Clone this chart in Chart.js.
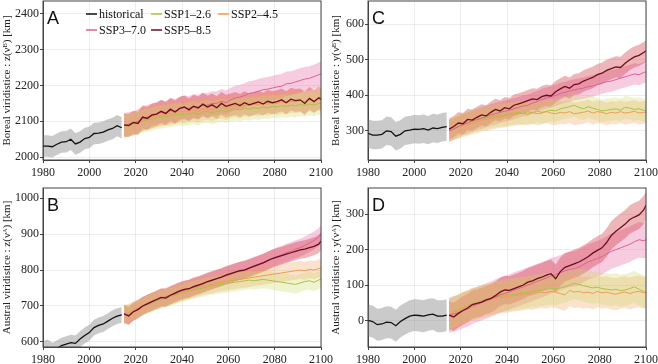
<!DOCTYPE html>
<html>
<head>
<meta charset="utf-8">
<script src="https://cdn.jsdelivr.net/npm/chart.js@4.4.0/dist/chart.umd.min.js"></script>
<style>
  html, body { margin: 0; padding: 0; background: #fff; }
  #wrap { position: relative; width: 658px; height: 364px; overflow: hidden; }
  #wrap canvas { position: absolute; left: 0; top: 0; }
</style>
</head>
<body>
<div id="wrap">
  <canvas id="panelA" width="658" height="364"></canvas>
  <canvas id="panelB" width="658" height="364"></canvas>
  <canvas id="panelC" width="658" height="364"></canvas>
  <canvas id="panelD" width="658" height="364"></canvas>
</div>
<script>
// years
const histYears = [1980,1982,1984,1986,1988,1990,1992,1994,1996,1998,2000,2002,2004,2006,2008,2010,2012,2014];
const sspYears = [2015,2017,2019,2021,2023,2025,2027,2029,2031,2033,2035,2037,2039,2041,2043,2045,2047,2049,2051,2053,2055,2057,2059,2061,2063,2065,2067,2069,2071,2073,2075,2077,2079,2081,2083,2085,2087,2089,2091,2093,2095,2097,2099,2100];
const seriesNames = ['historical', 'SSP1–2.6', 'SSP2–4.5', 'SSP3–7.0', 'SSP5–8.5'];
const xTicks = [1980, 2000, 2020, 2040, 2060, 2080, 2100];

// A : boreal z
const borealZ_hist = [2031,2031,2029,2036,2042,2043,2050,2037,2042,2052,2055,2066,2067,2070,2076,2080,2088,2082];
const borealZ_ssp126 = [2087,2088,2092,2096,2100,2104,2106,2110,2112,2114,2116,2118,2120,2118,2122,2124,2120,2126,2128,2124,2128,2130,2128,2132,2134,2132,2136,2134,2138,2136,2140,2138,2142,2140,2144,2142,2145,2143,2147,2145,2148,2146,2150,2150];
const borealZ_ssp245 = [2088,2090,2094,2098,2104,2108,2112,2115,2118,2120,2122,2124,2128,2126,2130,2132,2128,2134,2136,2133,2138,2140,2136,2142,2144,2140,2146,2144,2148,2146,2150,2148,2152,2150,2154,2152,2156,2154,2158,2155,2160,2157,2162,2160];
const borealZ_ssp370 = [2089,2092,2095,2100,2108,2112,2115,2120,2125,2122,2130,2128,2135,2138,2136,2142,2140,2146,2145,2150,2150,2156,2152,2160,2165,2168,2172,2178,2180,2184,2188,2190,2193,2196,2198,2205,2206,2210,2214,2218,2220,2225,2230,2233];
const borealZ_ssp585 = [2090,2088,2097,2094,2112,2108,2118,2120,2128,2122,2134,2126,2136,2140,2132,2142,2137,2148,2140,2146,2138,2150,2142,2146,2150,2144,2152,2146,2150,2154,2148,2156,2152,2155,2160,2152,2162,2158,2160,2150,2164,2155,2166,2162];
const borealZ_spread = [30, 32, 32, 34, 32]; // half width of shaded band, same order as seriesNames
const borealZ_ticks = [2000, 2100, 2200, 2300, 2400];

// C : boreal y
const borealY_hist = [293,288,288,290,300,298,285,290,300,302,305,304,306,302,308,306,310,312];
const borealY_ssp126 = [300,308,312,318,322,326,330,334,336,340,342,345,344,348,350,352,348,354,350,356,352,355,358,356,362,365,368,372,366,362,368,364,360,356,358,360,362,358,366,364,360,362,358,355];
const borealY_ssp245 = [300,306,310,315,318,322,325,330,332,336,338,340,342,344,346,348,350,346,352,348,350,354,350,348,352,350,354,348,350,352,356,350,354,352,348,352,350,354,350,352,355,350,352,352];
const borealY_ssp370 = [300,305,312,318,322,328,332,336,340,345,348,352,355,358,362,366,370,372,378,382,388,392,396,400,405,408,412,415,418,420,424,426,430,434,438,440,444,448,452,456,460,458,464,466];
const borealY_ssp585 = [305,312,322,320,332,330,338,345,342,352,360,356,365,362,372,376,380,385,390,388,396,400,398,410,418,425,420,430,432,440,445,450,458,462,470,475,480,478,490,500,508,512,520,525];
const borealY_spread = [40, 32, 32, 30, 30];
const borealY_ticks = [300, 400, 500, 600];

// B : austral z
const australZ_hist = [580,585,576,582,590,594,598,596,608,618,626,640,646,650,658,666,672,675];
const australZ_ssp126 = [678,680,686,692,698,704,708,714,718,722,726,730,734,738,742,745,748,750,754,756,758,760,762,764,766,768,770,772,770,772,774,772,770,768,766,764,762,760,764,768,770,766,772,775];
const australZ_ssp245 = [678,680,688,694,700,706,710,716,720,724,728,732,736,740,744,748,752,755,758,760,764,766,768,770,772,774,776,778,780,782,784,786,788,790,792,794,796,798,800,798,802,800,804,805];
const australZ_ssp370 = [678,675,684,692,700,706,712,716,722,726,730,734,740,744,748,752,756,762,766,770,776,780,784,788,794,798,802,806,812,816,820,826,832,838,842,848,852,858,862,868,875,882,892,900];
const australZ_ssp585 = [678,672,684,690,700,706,712,718,724,722,730,736,742,746,748,754,758,762,768,772,776,780,786,790,794,798,800,805,810,815,820,826,832,836,840,844,848,852,856,858,862,866,872,880];
const australZ_spread = [22, 25, 25, 25, 25];
const australZ_ticks = [600, 700, 800, 900, 1000];

// D : austral y
const australY_hist = [0,-3,-12,-10,-5,-6,-15,-3,5,12,15,14,12,16,18,12,12,15];
const australY_ssp126 = [15,24,30,36,42,48,50,55,58,62,66,68,70,72,74,76,78,80,82,84,86,88,90,88,92,95,100,105,102,98,95,92,94,90,88,86,88,84,86,90,95,88,82,78];
const australY_ssp245 = [15,22,28,35,40,45,48,52,56,60,62,65,66,68,70,72,74,76,75,78,80,78,82,80,76,72,85,80,82,78,80,76,82,78,80,76,74,78,80,76,80,82,78,80];
const australY_ssp370 = [15,18,22,28,32,40,45,50,55,60,66,72,76,80,86,90,95,100,105,110,115,120,126,130,135,140,144,146,150,158,165,170,175,180,188,195,200,205,210,215,222,228,225,228];
const australY_ssp585 = [15,10,20,28,35,45,48,52,58,62,70,80,86,85,90,95,100,108,112,118,122,128,132,118,138,150,155,160,165,172,180,190,198,205,220,240,252,262,272,285,292,298,312,325];
const australY_spread = [45, 45, 45, 50, 40];
const australY_ticks = [0, 100, 200, 300];

const lineColors = ['#111111', '#a9c23f', '#ee9b56', '#dd5f97', '#6d0e1e'];
const lineWidths = [1.3, 1, 1, 1, 1.3];
const bandColors = ['rgba(150,150,150,0.5)', 'rgba(205,215,100,0.3)', 'rgba(240,160,90,0.3)', 'rgba(235,110,165,0.35)', 'rgba(205,45,55,0.35)'];

Chart.defaults.font.family = "'Liberation Serif', 'DejaVu Serif', serif";
Chart.defaults.font.size = 12;
Chart.defaults.color = '#222';

function pts(years, vals, off) {
  return years.map((yr, i) => ({ x: yr, y: vals[i] + off }));
}

// letter, frame and (panel A) legend
const panelDeco = {
  id: 'panelDeco',
  afterDraw(chart, args, opts) {
    const { ctx, chartArea: a } = chart;
    ctx.save();
    ctx.strokeStyle = '#444';
    ctx.lineWidth = 1;
    ctx.strokeRect(a.left, a.top, a.right - a.left, a.bottom - a.top);
    ctx.fillStyle = '#111';
    ctx.font = "18px 'Liberation Sans', Arial, sans-serif";
    ctx.textBaseline = 'alphabetic';
    ctx.fillText(opts.letter, a.left + 4, a.top + 23);
    if (opts.legend) {
      const cols = [43, 108, 175];
      ctx.font = "12px 'Liberation Serif', serif";
      ctx.textBaseline = 'middle';
      seriesNames.forEach((name, i) => {
        const x = a.left + cols[i % 3];
        const y = a.top + 13 + Math.floor(i / 3) * 16;
        ctx.strokeStyle = lineColors[i];
        ctx.lineWidth = 1.5;
        ctx.beginPath();
        ctx.moveTo(x, y);
        ctx.lineTo(x + 11, y);
        ctx.stroke();
        ctx.fillStyle = '#111';
        ctx.fillText(name, x + 13, y + 0.5);
      });
    }
    ctx.restore();
  }
};

function makePanel(id, p) {
  const series = [p.hist, p.s126, p.s245, p.s370, p.s585];
  const yearsFor = i => (i === 0 ? histYears : sspYears);
  const datasets = [];
  // lines first so they are drawn on top
  [4, 3, 2, 1, 0].forEach(i => {
    datasets.push({
      data: pts(yearsFor(i), series[i], 0),
      borderColor: lineColors[i],
      borderWidth: lineWidths[i],
      pointRadius: 0,
      fill: false
    });
  });
  [0, 1, 2, 4, 3].forEach(i => {
    datasets.push({
      data: pts(yearsFor(i), series[i], -p.spread[i]),
      borderWidth: 0,
      pointRadius: 0,
      fill: false
    });
    datasets.push({
      data: pts(yearsFor(i), series[i], p.spread[i]),
      borderWidth: 0,
      pointRadius: 0,
      backgroundColor: bandColors[i],
      fill: '-1'
    });
  });

  new Chart(document.getElementById(id), {
    type: 'line',
    data: { datasets },
    plugins: [panelDeco],
    options: {
      responsive: false,
      animation: false,
      events: [],
      layout: { padding: p.pad },
      plugins: {
        legend: { display: false },
        tooltip: { enabled: false },
        panelDeco: { letter: p.letter, legend: p.legend }
      },
      scales: {
        x: {
          type: 'linear',
          min: 1980,
          max: 2100,
          afterBuildTicks: s => { s.ticks = xTicks.map(v => ({ value: v })); },
          afterFit: s => { s.height = p.xh; s.paddingLeft = 0; s.paddingRight = 0; },
          grid: { color: 'rgba(0,0,0,0.07)', tickColor: '#444', tickLength: 3 },
          border: { color: '#444' },
          ticks: { padding: 3, maxRotation: 0, autoSkip: false, callback: v => String(v) }
        },
        y: {
          type: 'linear',
          min: p.min,
          max: p.max,
          afterBuildTicks: s => { s.ticks = p.ticks.map(v => ({ value: v })); },
          afterFit: s => { s.width = p.yw; s.paddingTop = 0; s.paddingBottom = 0; },
          grid: { color: 'rgba(0,0,0,0.07)', tickColor: '#444', tickLength: 3 },
          border: { color: '#444' },
          ticks: { padding: 1, callback: v => String(v) },
          title: { display: true, text: p.title, padding: { top: 1, bottom: 0 }, font: { size: 11 } }
        }
      }
    }
  });
}

makePanel('panelA', {
  letter: 'A', legend: true,
  hist: borealZ_hist, s126: borealZ_ssp126, s245: borealZ_ssp245, s370: borealZ_ssp370, s585: borealZ_ssp585,
  spread: borealZ_spread, ticks: borealZ_ticks, min: 1992, max: 2436,
  title: 'Boreal viridistice : z(νᴮ) [km]',
  pad: { left: 0, top: 1, right: 337, bottom: 182 }, yw: 43, xh: 22
});
makePanel('panelC', {
  letter: 'C', legend: false,
  hist: borealY_hist, s126: borealY_ssp126, s245: borealY_ssp245, s370: borealY_ssp370, s585: borealY_ssp585,
  spread: borealY_spread, ticks: borealY_ticks, min: 218, max: 665,
  title: 'Boreal viridistice : y(νᴮ) [km]',
  pad: { left: 329, top: 1, right: 12, bottom: 182 }, yw: 39, xh: 22
});
makePanel('panelB', {
  letter: 'B', legend: false,
  hist: australZ_hist, s126: australZ_ssp126, s245: australZ_ssp245, s370: australZ_ssp370, s585: australZ_ssp585,
  spread: australZ_spread, ticks: australZ_ticks, min: 586, max: 1028,
  title: 'Austral viridistice : z(νᴬ) [km]',
  pad: { left: 0, top: 188, right: 337, bottom: 0 }, yw: 43, xh: 17
});
makePanel('panelD', {
  letter: 'D', legend: false,
  hist: australY_hist, s126: australY_ssp126, s245: australY_ssp245, s370: australY_ssp370, s585: australY_ssp585,
  spread: australY_spread, ticks: australY_ticks, min: -75, max: 374,
  title: 'Austral viridistice : y(νᴬ) [km]',
  pad: { left: 329, top: 188, right: 12, bottom: 0 }, yw: 39, xh: 17
});
</script>
</body>
</html>
